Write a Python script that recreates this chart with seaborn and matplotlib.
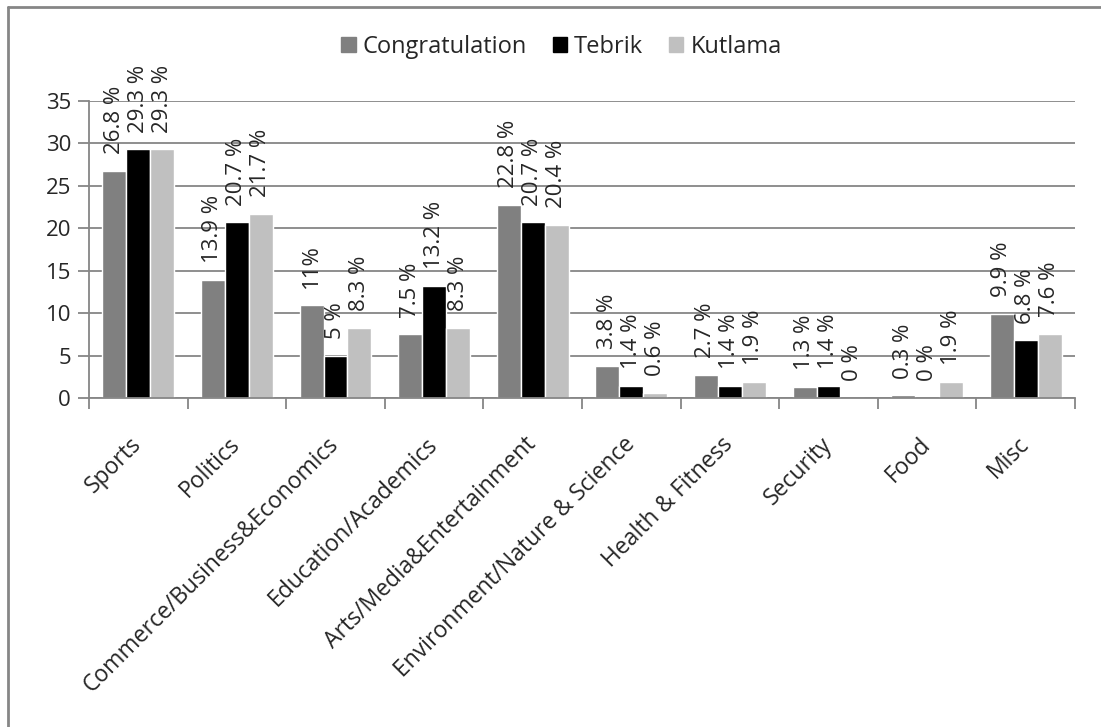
import pandas as pd
import numpy as np
import matplotlib
matplotlib.use('Agg')
import matplotlib.pyplot as plt
import seaborn as sns
from matplotlib.lines import Line2D

# Data
categories = ['Sports', 'Politics', 'Commerce/Business&Economics', 'Education/Academics',
              'Arts/Media&Entertainment', 'Environment/Nature & Science', 'Health & Fitness',
              'Security', 'Food', 'Misc']
series = ['Congratulation', 'Tebrik', 'Kutlama']
congratulation = [26.8, 13.9, 11, 7.5, 22.8, 3.8, 2.7, 1.3, 0.3, 9.9]
tebrik = [29.3, 20.7, 5, 13.2, 20.7, 1.4, 1.4, 1.4, 0, 6.8]
kutlama = [29.3, 21.7, 8.3, 8.3, 20.4, 0.6, 1.9, 0, 1.9, 7.6]
congratulation_labels = ['26.8 %', '13.9 %', '11%', '7.5 %', '22.8 %', '3.8 %', '2.7 %', '1.3 %', '0.3 %', '9.9 %']
tebrik_labels = ['29.3 %', '20.7 %', '5 %', '13.2 %', '20.7 %', '1.4 %', '1.4 %', '1.4 %', '0 %', '6.8 %']
kutlama_labels = ['29.3 %', '21.7 %', '8.3 %', '8.3 %', '20.4 %', '0.6 %', '1.9 %', '0 %', '1.9 %', '7.6 %']
colors = ['#808080', '#000000', '#c0c0c0']

df = pd.DataFrame({
    'Category': categories * 3,
    'Series': [s for s in series for _ in categories],
    'Value': congratulation + tebrik + kutlama,
})

sns.set_style('white')
plt.rcParams['font.family'] = ['Open Sans', 'DejaVu Sans']
fs = 16

fig = plt.figure(figsize=(11.01, 7.27), dpi=100)
ax = fig.add_axes([89 / 1101, 1 - 398 / 727, (1075 - 89) / 1101, (398 - 101) / 727])

sns.barplot(data=df, x='Category', y='Value', hue='Series', palette=colors,
            width=0.73, gap=0, saturation=1, ax=ax, legend=False)

for container, labels in zip(ax.containers, [congratulation_labels, tebrik_labels, kutlama_labels]):
    ax.bar_label(container, labels=labels, rotation=90, padding=12, fontsize=fs, clip_on=False)

ax.set_ylim(0, 35)
ax.set_yticks(range(0, 36, 5))
ax.set_xlim(-0.5, 9.5)
ax.set_xlabel('')
ax.set_ylabel('')
ax.yaxis.grid(True, color='#868686', linewidth=1.3)
ax.set_axisbelow(True)
for s in ['top', 'right']:
    ax.spines[s].set_visible(False)
for s in ['left', 'bottom']:
    ax.spines[s].set_color('#868686')
    ax.spines[s].set_linewidth(1.3)

ax.tick_params(axis='y', which='major', length=8, width=1.3, color='#868686',
               direction='out', labelsize=fs, pad=5, left=True)
ax.set_xticks(np.arange(len(categories)))
ax.set_xticks(np.arange(-0.5, len(categories), 1), minor=True)
ax.tick_params(axis='x', which='major', length=0, pad=31)
ax.tick_params(axis='x', which='minor', length=8, width=1.3, color='#868686', direction='out', bottom=True)
ax.set_xticklabels(categories, rotation=45, ha='right', va='center', rotation_mode='anchor', fontsize=16.5)

handles = [plt.Rectangle((0, 0), 1, 1, color=c) for c in colors]
fig.legend(handles, series, loc='center', bbox_to_anchor=(0.51, 1 - 47 / 727), ncol=3,
           frameon=False, fontsize=17, handlelength=0.6, handleheight=0.6,
           handletextpad=0.3, columnspacing=1.1)

# outer chart border (left and top edges visible)
fig.add_artist(Line2D([8 / 1101, 8 / 1101], [0, 1 - 7 / 727], transform=fig.transFigure,
                      color='#868686', linewidth=2))
fig.add_artist(Line2D([8 / 1101, 1], [1 - 7 / 727, 1 - 7 / 727], transform=fig.transFigure,
                      color='#868686', linewidth=2))

fig.savefig('out.png', dpi=100)
